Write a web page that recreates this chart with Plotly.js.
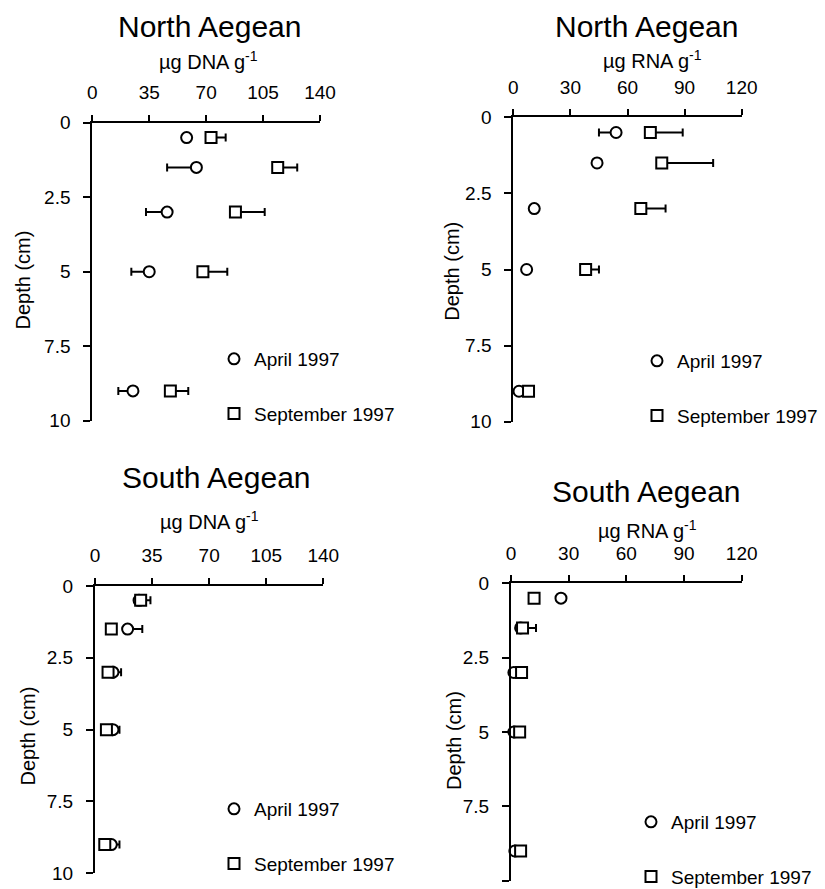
<!DOCTYPE html>
<html><head><meta charset="utf-8">
<script src="https://cdn.plot.ly/plotly-3.0.1.min.js"></script>
<style>html,body{margin:0;padding:0;background:#fff}#chart{width:825px;height:889px}</style>
</head><body><div id="chart"></div>
<script>
// ---- data ----
const depth = [0.5, 1.5, 3, 5, 9];
const seriesNames = ['April 1997', 'September 1997'];
const panelTitles = ['North Aegean', 'North Aegean', 'South Aegean', 'South Aegean'];
const xTitles = ['µg DNA g<sup>-1</sup>', 'µg RNA g<sup>-1</sup>', 'µg DNA g<sup>-1</sup>', 'µg RNA g<sup>-1</sup>'];
const yTitle = 'Depth (cm)';
const dnaTicks = [0, 35, 70, 105, 140];
const rnaTicks = [0, 30, 60, 90, 120];
const depthTicks = [0, 2.5, 5, 7.5, 10];

// North Aegean DNA
const nDnaApr = [58, 64, 46, 35, 25];
const nDnaAprMinus = [0, 18, 13, 11, 9];
const nDnaAprPlus = [0, 0, 0, 0, 0];
const nDnaSep = [73, 114, 88, 68, 48];
const nDnaSepMinus = [0, 0, 0, 0, 0];
const nDnaSepPlus = [9, 12, 18, 15, 11];

// North Aegean RNA
const nRnaApr = [54, 44, 11, 7, 3];
const nRnaAprMinus = [9, 0, 0, 0, 0];
const nRnaAprPlus = [0, 0, 0, 0, 0];
const nRnaSep = [72, 78, 67, 38, 8];
const nRnaSepMinus = [0, 0, 0, 0, 0];
const nRnaSepPlus = [17, 27, 13, 7, 0];

// South Aegean DNA
const sDnaApr = [27, 20, 11, 11, 10];
const sDnaAprMinus = [0, 0, 0, 0, 0];
const sDnaAprPlus = [0, 9, 5, 4, 5];
const sDnaSep = [28, 10, 8, 7, 6];
const sDnaSepMinus = [0, 0, 0, 0, 0];
const sDnaSepPlus = [6, 0, 0, 0, 0];

// South Aegean RNA
const sRnaApr = [26, 5, 1.5, 1.5, 2];
const sRnaAprMinus = [0, 0, 0, 0, 0];
const sRnaAprPlus = [0, 0, 0, 0, 0];
const sRnaSep = [12, 6, 5.5, 4.5, 5];
const sRnaSepMinus = [0, 0, 0, 0, 0];
const sRnaSepPlus = [0, 7, 0, 0, 2];

const panelData = [
  {apr: nDnaApr, aprM: nDnaAprMinus, aprP: nDnaAprPlus, sep: nDnaSep, sepM: nDnaSepMinus, sepP: nDnaSepPlus, ticks: dnaTicks},
  {apr: nRnaApr, aprM: nRnaAprMinus, aprP: nRnaAprPlus, sep: nRnaSep, sepM: nRnaSepMinus, sepP: nRnaSepPlus, ticks: rnaTicks},
  {apr: sDnaApr, aprM: sDnaAprMinus, aprP: sDnaAprPlus, sep: sDnaSep, sepM: sDnaSepMinus, sepP: sDnaSepPlus, ticks: dnaTicks},
  {apr: sRnaApr, aprM: sRnaAprMinus, aprP: sRnaAprPlus, sep: sRnaSep, sepM: sRnaSepMinus, sepP: sRnaSepPlus, ticks: rnaTicks}
];

// ---- layout geometry (pixels) ----
const W = 825, H = 889;
const FONT = 'Liberation Sans, Arial, Helvetica, sans-serif';
const geo = [
  {x0: 92.3, x1: 320, y0: 122.7, y1: 420.7, title: [210, 26], xt: [208, 61], yt: [22.5, 280], leg: [234, 357]},
  {x0: 513.3, x1: 741.7, y0: 117.3, y1: 421.7, title: [646.7, 26], xt: [652, 60], yt: [451.7, 271], leg: [657, 359]},
  {x0: 95, x1: 323.3, y0: 586, y1: 873.3, title: [216.7, 477], xt: [209, 520], yt: [27.5, 736], leg: [234, 807]},
  {x0: 511, x1: 741.7, y0: 583.3, y1: 880.7, title: [646.7, 492], xt: [647, 529], yt: [454, 741], leg: [651, 820]}
];

const px = v => v / W;
const py = v => 1 - v / H;

const traces = [];
const layout = {
  width: W, height: H,
  margin: {l: 0, r: 0, t: 0, b: 0, autoexpand: false},
  paper_bgcolor: '#fff', plot_bgcolor: '#fff',
  font: {family: FONT, color: '#000', size: 19},
  showlegend: true,
  annotations: []
};

panelData.forEach((p, i) => {
  const n = i + 1;
  const xa = n === 1 ? 'x' : 'x' + n;
  const ya = n === 1 ? 'y' : 'y' + n;
  const legName = n === 1 ? 'legend' : 'legend' + n;
  const g = geo[i];
  const errStyle = {type: 'data', symmetric: false, color: '#000', thickness: 2, width: 4};
  traces.push({
    type: 'scatter', mode: 'markers', name: seriesNames[0],
    x: p.apr, y: depth, xaxis: xa, yaxis: ya, legend: legName, legendgroup: 'a' + n,
    cliponaxis: false,
    marker: {symbol: 'circle', size: 11, color: '#fff', line: {color: '#000', width: 2}},
    error_x: Object.assign({array: p.aprP, arrayminus: p.aprM}, errStyle)
  });
  traces.push({
    type: 'scatter', mode: 'markers', name: seriesNames[1],
    x: p.sep, y: depth, xaxis: xa, yaxis: ya, legend: legName, legendgroup: 's' + n,
    cliponaxis: false,
    marker: {symbol: 'square', size: 11, color: '#fff', line: {color: '#000', width: 2}},
    error_x: Object.assign({array: p.sepP, arrayminus: p.sepM}, errStyle)
  });
  const xmax = p.ticks[p.ticks.length - 1];
  layout['xaxis' + (n === 1 ? '' : n)] = {
    domain: [px(g.x0), px(g.x1)], anchor: ya, side: 'top',
    range: [0, xmax], tickmode: 'array', tickvals: p.ticks, ticktext: p.ticks.map(String),
    showline: true, linecolor: '#000', linewidth: 2,
    ticks: 'outside', ticklen: 6, tickwidth: 2, tickcolor: '#000',
    ticklabelstandoff: 8, automargin: false,
    showgrid: false, zeroline: false, fixedrange: true,
    tickfont: {size: 19, family: FONT, color: '#000'}
  };
  layout['yaxis' + (n === 1 ? '' : n)] = {
    domain: [py(g.y1), py(g.y0)], anchor: xa,
    range: [10, 0], tickmode: 'array', tickvals: depthTicks, ticktext: depthTicks.map(String),
    showline: true, linecolor: '#000', linewidth: 2,
    ticks: 'outside', ticklen: 7, tickwidth: 2, tickcolor: '#000',
    ticklabelstandoff: 9, automargin: false,
    showgrid: false, zeroline: false, fixedrange: true,
    tickfont: {size: 19, family: FONT, color: '#000'}
  };
  layout[legName] = {
    x: px(g.leg[0] - 20), xanchor: 'left',
    y: py(g.leg[1] - 17), yanchor: 'top',
    bgcolor: 'rgba(0,0,0,0)', borderwidth: 0,
    font: {size: 19, family: FONT, color: '#000'},
    tracegroupgap: 27, itemwidth: 30, traceorder: 'grouped'
  };
  layout.annotations.push({
    xref: 'paper', yref: 'paper', x: px(g.title[0]), y: py(g.title[1]),
    xanchor: 'center', yanchor: 'middle', showarrow: false,
    text: panelTitles[i], font: {size: 30, family: FONT, color: '#000'}
  });
  layout.annotations.push({
    xref: 'paper', yref: 'paper', x: px(g.xt[0]), y: py(g.xt[1]),
    xanchor: 'center', yanchor: 'middle', showarrow: false,
    text: xTitles[i], font: {size: 20, family: FONT, color: '#000'}
  });
  layout.annotations.push({
    xref: 'paper', yref: 'paper', x: px(g.yt[0]), y: py(g.yt[1]),
    xanchor: 'center', yanchor: 'middle', showarrow: false, textangle: -90,
    text: yTitle, font: {size: 20, family: FONT, color: '#000'}
  });
});

Plotly.newPlot('chart', traces, layout, {displayModeBar: false, staticPlot: true});
</script>
</body></html>
